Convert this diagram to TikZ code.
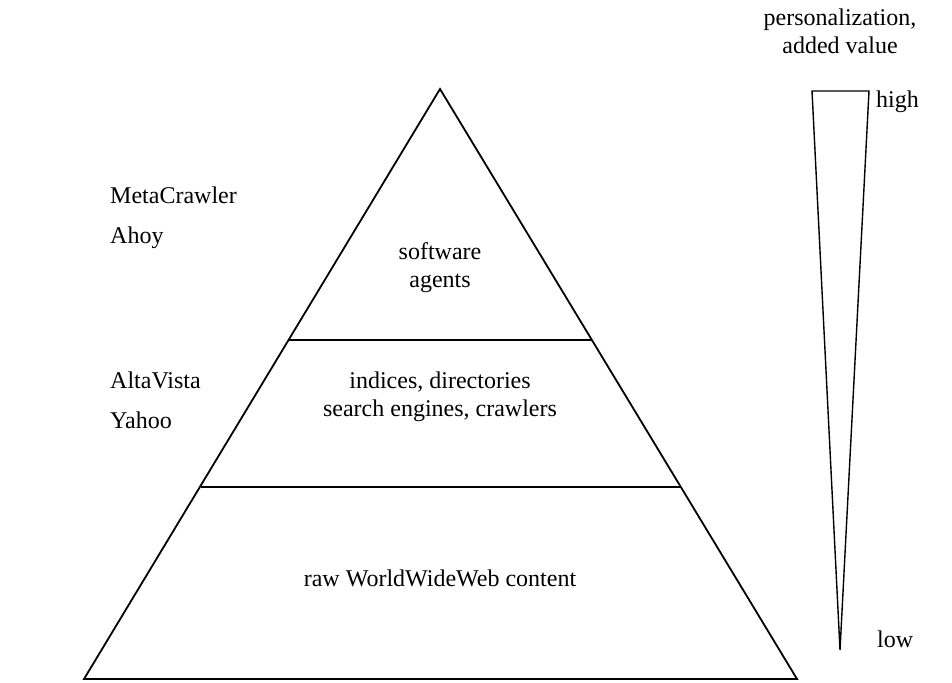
\documentclass[tikz,border=0pt]{standalone}
\usepackage{fontspec}
\setmainfont{Liberation Serif}
\begin{document}
\begin{tikzpicture}[x=1pt,y=-1pt,
  lbl/.style={font=\fontsize{24}{28}\selectfont, inner sep=0pt, align=center},
  edge/.style={line width=1.8pt, line join=miter}]
\useasboundingbox (0,0) rectangle (952,682);
\coordinate (apex) at (440,89);
\coordinate (bl) at (84,679);
\coordinate (br) at (797,679);
\draw[edge] (apex) -- (bl) -- (br) -- cycle;
\coordinate (l1a) at (289,340);
\coordinate (l1b) at (592,340);
\coordinate (l2a) at (201,487);
\coordinate (l2b) at (680,487);
\draw[line width=1.4pt] (l1a) -- (l1b);
\draw[line width=1.4pt] (l2a) -- (l2b);
% wedge
\coordinate (wl) at (812,91);
\coordinate (wr) at (869,91);
\coordinate (wb) at (840,650);
\draw[line width=1.4pt, line join=miter] (wl) -- (wr) -- (wb) -- cycle;
\node[lbl] (pers) at (840,31) {personalization,\\added value};
\node[lbl, anchor=west] (high) at (876,102) {high};
\node[lbl, anchor=west] (low) at (877,639) {low};
\node[lbl, anchor=west] (meta) at (110,195) {MetaCrawler};
\node[lbl, anchor=west] (ahoy) at (110,238) {Ahoy};
\node[lbl, anchor=west] (alta) at (110,380) {AltaVista};
\node[lbl, anchor=west] (yahoo) at (110,420) {Yahoo};
\node[lbl] (sw) at (440,268) {software\\agents};
\node[lbl] (idx) at (440,397) {indices, directories\\search engines, crawlers};
\node[lbl] (raw) at (440,578) {raw WorldWideWeb content};
\end{tikzpicture}
\end{document}
